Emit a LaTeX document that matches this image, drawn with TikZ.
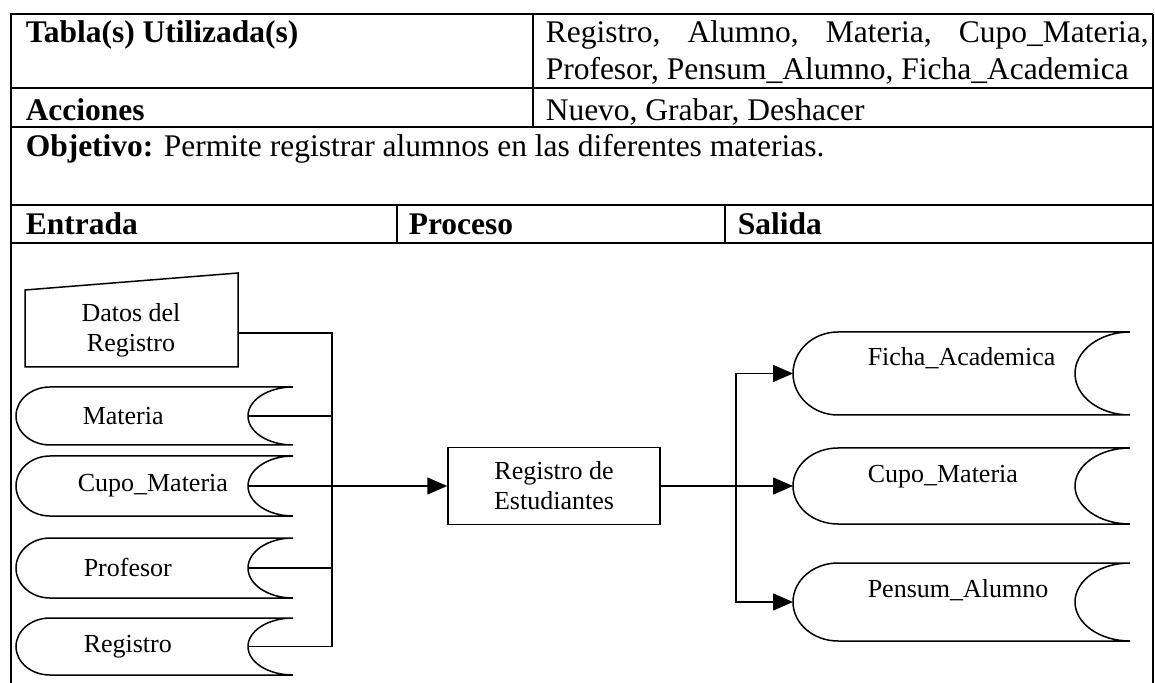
\documentclass[tikz,border=0pt]{standalone}
\usepackage{fontspec}
\setmainfont{Liberation Serif}
\usetikzlibrary{arrows.meta}
\newcommand{\Ala}{34}
\newcommand{\Hueco}{45}
\newcommand{\Cinta}[5]{
  \coordinate (#1-w) at (#2,\fpeval{(#4+#5)/2});
  \coordinate (#1-e) at (\fpeval{#3-\Hueco},\fpeval{(#4+#5)/2});
  \draw (\fpeval{#2+\Ala},#4) -- (#3,#4)
    .. controls (\fpeval{#3-0.552*\Hueco},#4) and (\fpeval{#3-\Hueco},\fpeval{(#4+#5)/2-0.276*(#5-#4)}) .. (#1-e)
    .. controls (\fpeval{#3-\Hueco},\fpeval{(#4+#5)/2+0.276*(#5-#4)}) and (\fpeval{#3-0.552*\Hueco},#5) .. (#3,#5)
    -- (\fpeval{#2+\Ala},#5)
    .. controls (\fpeval{#2+0.448*\Ala},#5) and (#2,\fpeval{(#4+#5)/2+0.276*(#5-#4)}) .. (#1-w)
    .. controls (#2,\fpeval{(#4+#5)/2-0.276*(#5-#4)}) and (\fpeval{#2+0.448*\Ala},#4) .. (\fpeval{#2+\Ala},#4) -- cycle;
}

\begin{document}
\begin{tikzpicture}[x=0.5pt,y=-0.5pt,line width=0.75pt,
  tabla/.style={font=\fontsize{15.75}{18.5}\selectfont, inner sep=0pt, anchor=base west},
  diag/.style={font=\fontsize{13}{15}\selectfont, inner sep=0pt},
  flecha/.style={-{Triangle[length=10pt,width=8.5pt]}}]
\useasboundingbox (0,0) rectangle (1155,683);
% marco de la tabla
\draw[line width=1.4pt] (11,683) -- (11,14) -- (1153,14);
\draw[line width=0.9pt] (1153,14) -- (1153,683);
\foreach \y in {88,127,205,243}
  \draw[line width=0.9pt] (11,\y) -- (1153,\y);
\draw[line width=0.9pt] (533,14) -- (533,127);
\draw[line width=0.9pt] (397,205) -- (397,243);
\draw[line width=0.9pt] (725,205) -- (725,243);

\node[tabla] (tit1) at (25,43) {\textbf{Tabla(s) Utilizada(s)}};
\node[tabla, text width=301.5pt, align=justify] (tablas) at (545,43)
  {Registro, Alumno, Materia, Cupo\_Materia,\linebreak Profesor, Pensum\_Alumno, Ficha\_Academica};
\node[tabla] (tit2) at (25,121) {\textbf{Acciones}};
\node[tabla] (acciones) at (545,121) {Nuevo, Grabar, Deshacer};
\node[tabla] (objetivo) at (25,157) {\textbf{Objetivo:} Permite registrar alumnos en las diferentes materias.};
\node[tabla] (entrada) at (25,235) {\textbf{Entrada}};
\node[tabla] (proc) at (408,235) {\textbf{Proceso}};
\node[tabla] (salida) at (737,235) {\textbf{Salida}};

% entradas
\draw (25,290) -- (238,273) -- (238,367) -- (25,367) -- cycle;
\node[diag, align=center] (datos) at (131,330) {Datos del\\Registro};
\coordinate (datos-e) at (238,333);

\Cinta{materia}{16}{293}{387}{445}
\node[diag, anchor=west] (lmateria) at (82,416) {Materia};
\Cinta{cupoent}{16}{293}{456}{516}
\node[diag, anchor=west] (lcupoent) at (77,486) {Cupo\_Materia};
\Cinta{profesor}{16}{293}{538}{598}
\node[diag, anchor=west] (lprofesor) at (83,567) {Profesor};
\Cinta{registro}{16}{293}{618}{675}
\node[diag, anchor=west] (lregistro) at (83,647) {Registro};

% proceso
\node[diag, draw, align=center, minimum width=106pt, minimum height=38.5pt] (proceso) at (554,486) {Registro de\\Estudiantes};

% salidas
\renewcommand{\Ala}{45}
\renewcommand{\Hueco}{55}
\Cinta{ficha}{793}{1130}{332}{415}
\node[diag, anchor=west] (lficha) at (867,358) {Ficha\_Academica};
\Cinta{cuposal}{793}{1130}{448}{524}
\node[diag, anchor=west] (lcuposal) at (867,477) {Cupo\_Materia};
\Cinta{pensum}{793}{1130}{563}{641}
\node[diag, anchor=west] (lpensum) at (867,590) {Pensum\_Alumno};

% conectores
\coordinate (busE) at (332,333);
\draw (datos-e) -- (busE) -- (busE |- registro-e) -- (registro-e);
\draw (materia-e) -- (materia-e -| busE);
\draw (profesor-e) -- (profesor-e -| busE);
\draw[flecha] (cupoent-e) -- (proceso.west);
\coordinate (busS) at (736,486);
\draw (proceso.east) -- (busS);
\draw[flecha] (busS) -- (cuposal-w);
\draw[flecha] (busS) |- (ficha-w);
\draw[flecha] (busS) |- (pensum-w);
\end{tikzpicture}
\end{document}
